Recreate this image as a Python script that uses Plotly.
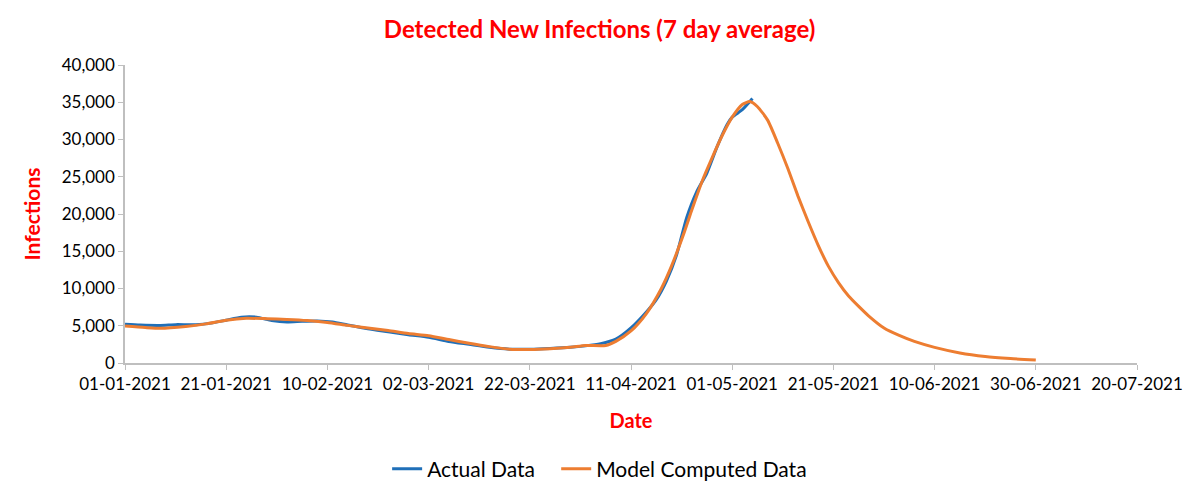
import datetime as dt
import plotly.graph_objects as go

start = dt.date(2021, 1, 1)

# Actual data (7-day average), by day offset from 01-01-2021
actual_days = [0, 3, 7, 10, 14, 17, 20, 23, 26, 29, 32, 35, 38, 41, 44, 48, 52, 56, 60, 64, 68,
               72, 76, 80, 84, 88, 91, 94, 97, 100, 103, 105, 107, 109, 111, 113, 115, 117,
               119, 120, 122, 124]
actual_vals = [5200, 5100, 5050, 5150, 5150, 5350, 5750, 6150, 6150, 5700, 5500, 5600, 5650, 5500,
               5100, 4600, 4200, 3800, 3450, 2900, 2500, 2100, 1850, 1850, 1950, 2100, 2300, 2600,
               3200, 4700, 6800, 8500, 11000, 14500, 19500, 23000, 25500, 29000, 32000, 33000,
               34000, 35500]

# Model computed data
model_days = [0, 4, 7, 12, 16, 20, 24, 28, 32, 36, 40, 44, 48, 52, 56, 60, 64, 68, 72, 76, 80,
              84, 88, 91, 95, 97, 100, 103, 106, 108, 110.5, 112, 114, 116, 118, 120, 122, 123.5,
              125, 127, 129, 131, 133, 135, 137, 139, 141, 143, 145, 147, 150, 153, 156, 160,
              165, 170, 175, 180]
model_vals = [4950, 4750, 4650, 4900, 5250, 5750, 6000, 5950, 5850, 5700, 5450, 5050, 4700, 4350,
              3950, 3650, 3150, 2650, 2200, 1850, 1800, 1900, 2100, 2350, 2350, 2900, 4300, 6600,
              10000, 13000, 17500, 20500, 24300, 27500, 30500, 33000, 34700, 35100, 34400, 32600,
              29500, 26100, 22400, 19000, 15800, 13000, 10800, 9000, 7600, 6300, 4700, 3700, 2900,
              2100, 1350, 880, 600, 400]

tick_dates = ["2021-01-01", "2021-01-21", "2021-02-10", "2021-03-02", "2021-03-22", "2021-04-11",
              "2021-05-01", "2021-05-21", "2021-06-10", "2021-06-30", "2021-07-20"]
y_ticks = [0, 5000, 10000, 15000, 20000, 25000, 30000, 35000, 40000]


def to_dt(d):
    return dt.datetime.combine(start, dt.time()) + dt.timedelta(days=d)


FONT = "Lato"
RED = "#ff0000"
PAD = "\u00a0" * 3

fig = go.Figure()
fig.add_trace(go.Scatter(
    x=[to_dt(d) for d in actual_days], y=actual_vals, name="Actual Data" + PAD,
    mode="lines", line=dict(color="#1f6fb8", width=3, shape="spline", smoothing=0.6)))
fig.add_trace(go.Scatter(
    x=[to_dt(d) for d in model_days], y=model_vals, name="Model Computed Data",
    mode="lines", line=dict(color="#ed7d31", width=3, shape="spline", smoothing=0.6)))

fig.update_layout(
    width=1200, height=497,
    margin=dict(l=117, r=71, t=57, b=142, autoexpand=False),
    paper_bgcolor="white", plot_bgcolor="white",
    font=dict(family=FONT, size=17, color="#000000"),
    title=dict(text="<b>Detected New Infections (7 day average)</b>", x=0.493, xanchor="center",
               y=0.957, yanchor="middle", font=dict(family=FONT, size=24, color=RED)),
    legend=dict(orientation="h", x=0.469, xanchor="center", y=-0.356, yanchor="middle",
                font=dict(family=FONT, size=21), itemwidth=30, traceorder="normal"),
    showlegend=True,
)
fig.update_xaxes(
    type="date", range=["2021-01-01", "2021-07-20"],
    tickvals=tick_dates, tickformat="%d-%m-%Y",
    showgrid=False, zeroline=False, showline=True, linecolor="#bfbfbf", linewidth=1.5,
    ticks="outside", ticklen=5, tickcolor="#bfbfbf", automargin=False,
    tickfont=dict(family=FONT, size=17),
    title=dict(text="<b>Date</b>", font=dict(family=FONT, size=20, color=RED), standoff=21),
)
fig.update_yaxes(
    range=[0, 40000], tickvals=y_ticks, tickformat=",d",
    showgrid=False, zeroline=False, showline=True, linecolor="#bfbfbf", linewidth=1.5,
    ticks="outside", ticklen=5, tickcolor="#bfbfbf", automargin=False,
    tickfont=dict(family=FONT, size=17),
    title=dict(text="<b>Infections</b>", font=dict(family=FONT, size=21, color=RED), standoff=15),
)

fig.write_html("out.html")
